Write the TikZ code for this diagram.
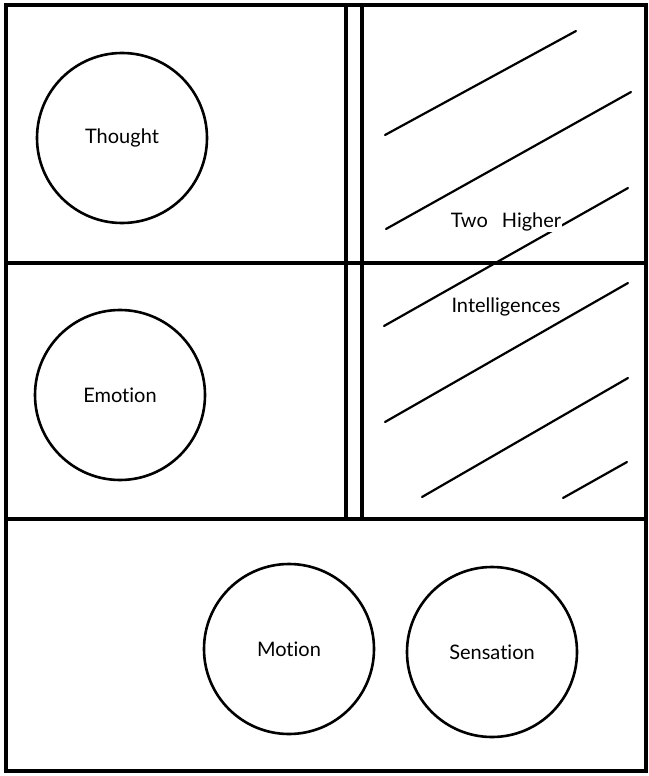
\documentclass[tikz,border=0pt]{standalone}
\usepackage{fontspec}
\setmainfont{Lato}[Ligatures={NoCommon,NoRequired,NoContextual}]
\begin{document}
\begin{tikzpicture}[x=1pt,y=-1pt,
  frame/.style={line width=3.2pt,line cap=rect},
  ring/.style={draw,circle,line width=2.6pt,minimum size=170pt,inner sep=0pt,font=\fontsize{20}{22}\selectfont},
  hatch/.style={line width=2.2pt,line cap=round},
  lbl/.style={fill=white,inner sep=1pt,font=\fontsize{20}{22}\selectfont}]
\useasboundingbox (0,0) rectangle (648,776);
% frame
\draw[frame] (6,5) rectangle (646,771);
\draw[frame] (6,263) -- (646,263);
\draw[frame] (6,519) -- (646,519);
\draw[frame] (346,5) -- (346,519);
\draw[frame] (362,5) -- (362,519);
% hatching
\draw[hatch] (385,135) -- (576,31);
\draw[hatch] (386,229) -- (631,92);
\draw[hatch] (384,326) -- (628,188);
\draw[hatch] (385,422) -- (628,283);
\draw[hatch] (422,497) -- (628,378);
\draw[hatch] (563,498) -- (627,462);
% labels
\node[lbl] (two) at (506,222) {Two\hspace{14pt}Higher};
\node[lbl] (intel) at (506,307) {Intelligences};
% circles
\node[ring] (thought) at (122,138) {Thought};
\node[ring] (emotion) at (120,395) {Emotion};
\node[ring] (motion) at (289,649) {Motion};
\node[ring] (sensation) at (492,652) {Sensation};
\end{tikzpicture}
\end{document}
